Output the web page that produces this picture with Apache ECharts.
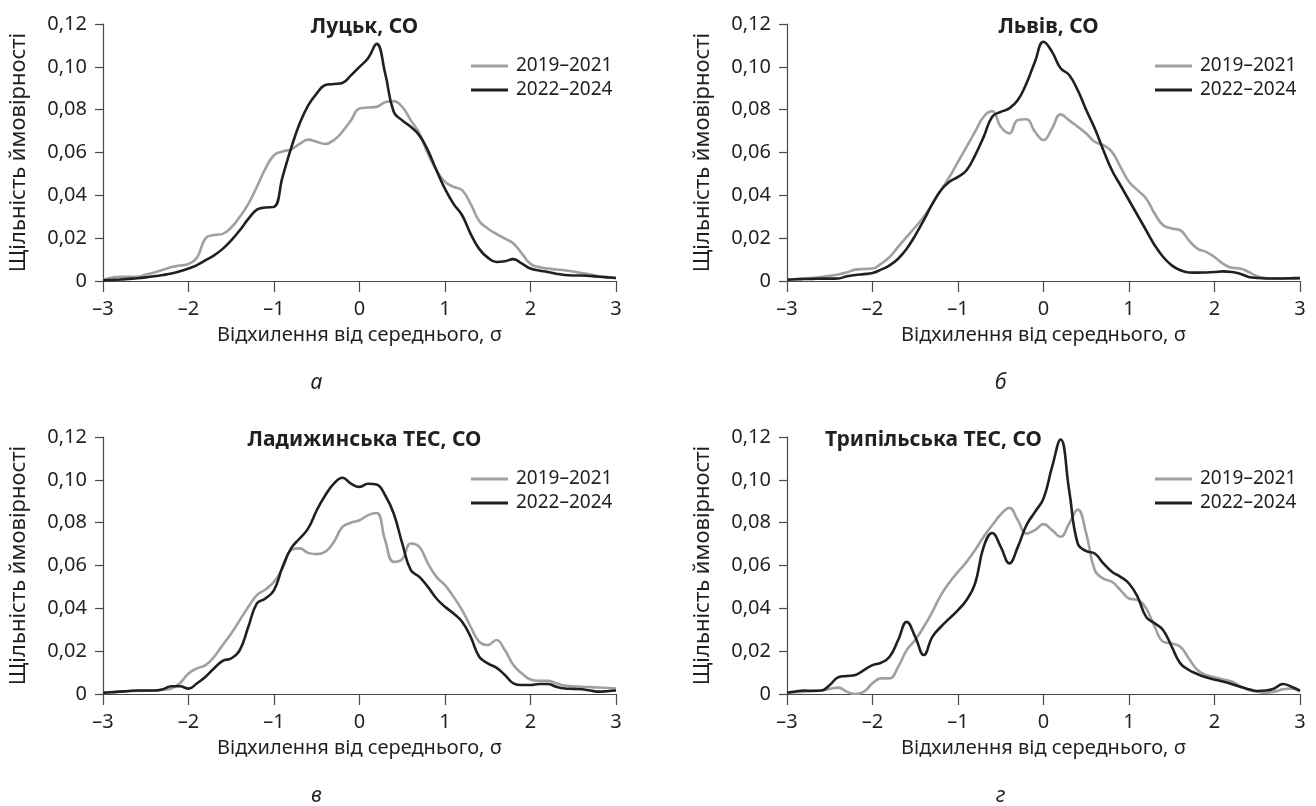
<!DOCTYPE html>
<html>
<head>
    <meta charset="utf-8">
    <title>Щільність ймовірності CO</title>
    <script src="https://cdn.jsdelivr.net/npm/echarts@6/dist/echarts.min.js"></script>
    <style>
        html, body { margin: 0; padding: 0; background: #fff; }
    </style>
</head>
<body>
    <div id="main" style="width: 1316px;height:806px;"></div>
    <script type="text/javascript">
        var myChart = echarts.init(document.getElementById('main'));

        // відхилення від середнього, σ
        var xs = [-3.0, -2.9, -2.8, -2.7, -2.6, -2.5, -2.4, -2.3, -2.2, -2.1,
                  -2.0, -1.9, -1.8, -1.7, -1.6, -1.5, -1.4, -1.3, -1.2, -1.1,
                  -1.0, -0.9, -0.8, -0.7, -0.6, -0.5, -0.4, -0.3, -0.2, -0.1,
                  0.0, 0.1, 0.2, 0.3, 0.4, 0.5, 0.6, 0.7, 0.8, 0.9,
                  1.0, 1.1, 1.2, 1.3, 1.4, 1.5, 1.6, 1.7, 1.8, 1.9,
                  2.0, 2.1, 2.2, 2.3, 2.4, 2.5, 2.6, 2.7, 2.8, 2.9, 3.0];

        var periods = ['2019–2021', '2022–2024'];
        var titles = ['Луцьк, СО', 'Львів, СО', 'Ладижинська ТЕС, СО', 'Трипільська ТЕС, СО'];
        var captions = ['а', 'б', 'в', 'г'];
        var yTicks = [0, 0.02, 0.04, 0.06, 0.08, 0.10, 0.12];

        // Луцьк
        var lutsk2019 = [0.0006, 0.0015, 0.002, 0.002, 0.002, 0.003, 0.004, 0.0052, 0.0065, 0.0072,
                         0.008, 0.011, 0.020, 0.0215, 0.022, 0.025, 0.030, 0.036, 0.044, 0.0525,
                         0.0587, 0.0605, 0.0614, 0.064, 0.066, 0.065, 0.064, 0.0658, 0.0697, 0.075,
                         0.0806, 0.081, 0.0813, 0.0835, 0.084, 0.0813, 0.075, 0.069, 0.0595, 0.0517,
                         0.0463, 0.044, 0.0424, 0.036, 0.028, 0.0245, 0.022, 0.0198, 0.0175, 0.0128,
                         0.008, 0.0065, 0.0058, 0.0054, 0.005, 0.0044, 0.0037, 0.003, 0.0022, 0.0018, 0.0014];
        var lutsk2022 = [0.0003, 0.0005, 0.0007, 0.001, 0.0013, 0.0017, 0.0022, 0.0028, 0.0035, 0.0045,
                         0.0058, 0.0074, 0.0097, 0.012, 0.015, 0.019, 0.0237, 0.029, 0.0333, 0.0343,
                         0.0346, 0.0486, 0.062, 0.0735, 0.082, 0.0876, 0.0915, 0.092, 0.0925, 0.096,
                         0.100, 0.104, 0.1107, 0.097, 0.079, 0.075, 0.072, 0.068, 0.061, 0.0517,
                         0.043, 0.036, 0.0307, 0.022, 0.015, 0.0109, 0.0089, 0.0092, 0.0102, 0.0081,
                         0.0058, 0.0049, 0.0042, 0.0034, 0.0028, 0.0026, 0.0026, 0.0023, 0.002, 0.0017, 0.0014];

        // Львів
        var lviv2019 = [0.0006, 0.0008, 0.0011, 0.0015, 0.0019, 0.0024, 0.003, 0.004, 0.0053, 0.0056,
                        0.0058, 0.008, 0.0112, 0.0159, 0.0206, 0.0252, 0.030, 0.036, 0.0424, 0.0486,
                        0.0556, 0.0626, 0.0697, 0.0767, 0.0793, 0.072, 0.0689, 0.0752, 0.0755, 0.0697,
                        0.0658, 0.0712, 0.0778, 0.075, 0.072, 0.0689, 0.065, 0.0634, 0.0603, 0.0533,
                        0.0463, 0.0424, 0.0385, 0.0315, 0.026, 0.0245, 0.0237, 0.019, 0.0151, 0.0136,
                        0.0112, 0.0081, 0.0062, 0.0058, 0.0042, 0.0022, 0.0014, 0.0012, 0.0011, 0.0011, 0.0011];
        var lviv2022 = [0.0006, 0.0008, 0.0009, 0.001, 0.0011, 0.0011, 0.0012, 0.0022, 0.0028, 0.0032,
                        0.0037, 0.0053, 0.0073, 0.0104, 0.0151, 0.0213, 0.0284, 0.036, 0.0424, 0.0463,
                        0.0486, 0.0517, 0.0587, 0.0673, 0.0767, 0.079, 0.0806, 0.0845, 0.0922, 0.1024,
                        0.1117, 0.107, 0.0993, 0.0962, 0.0891, 0.0798, 0.0712, 0.0611, 0.0517, 0.0447,
                        0.0377, 0.0307, 0.0237, 0.0167, 0.0112, 0.0073, 0.005, 0.004, 0.0039, 0.004,
                        0.0042, 0.0045, 0.0042, 0.0034, 0.0019, 0.0014, 0.0012, 0.0012, 0.0012, 0.0013, 0.0014];

        // Ладижинська ТЕС
        var ladyzhyn2019 = [0.0006, 0.0009, 0.0011, 0.0013, 0.0014, 0.0015, 0.0016, 0.002, 0.0026, 0.005,
                            0.0096, 0.012, 0.0135, 0.0174, 0.0229, 0.0283, 0.0345, 0.0407, 0.0462, 0.0488,
                            0.0524, 0.0586, 0.0672, 0.068, 0.0659, 0.0653, 0.0664, 0.071, 0.078, 0.080,
                            0.0811, 0.0835, 0.0845, 0.0718, 0.0617, 0.063, 0.0703, 0.0687, 0.061, 0.0547,
                            0.0508, 0.0454, 0.0392, 0.0314, 0.0244, 0.0229, 0.0252, 0.0205, 0.0135, 0.0096,
                            0.0068, 0.0062, 0.0062, 0.005, 0.0039, 0.0036, 0.0034, 0.0032, 0.003, 0.0028, 0.0026];
        var ladyzhyn2022 = [0.0006, 0.0008, 0.0011, 0.0014, 0.0016, 0.0016, 0.0016, 0.0022, 0.0036, 0.0036,
                            0.0025, 0.005, 0.0081, 0.012, 0.0155, 0.0166, 0.0205, 0.0314, 0.0423, 0.0446,
                            0.0485, 0.0594, 0.068, 0.0726, 0.0773, 0.0858, 0.0928, 0.0982, 0.101, 0.0982,
                            0.0967, 0.0982, 0.0978, 0.0928, 0.0843, 0.0703, 0.0578, 0.0547, 0.05, 0.0446,
                            0.0407, 0.0376, 0.0337, 0.0267, 0.0174, 0.0143, 0.0123, 0.0089, 0.005, 0.0042,
                            0.0042, 0.0047, 0.0047, 0.0034, 0.0026, 0.0024, 0.0022, 0.0016, 0.0011, 0.0013, 0.0016];

        // Трипільська ТЕС
        var trypillia2019 = [0.0006, 0.0008, 0.0011, 0.0013, 0.0016, 0.0024, 0.003, 0.0011, 0.0, 0.0011,
                             0.005, 0.0073, 0.0073, 0.0127, 0.0205, 0.0252, 0.0314, 0.0384, 0.0462, 0.0521,
                             0.057, 0.0617, 0.0672, 0.0734, 0.0788, 0.0838, 0.0869, 0.0811, 0.0749, 0.0765,
                             0.0793, 0.0765, 0.0734, 0.0796, 0.0861, 0.0749, 0.0578, 0.0539, 0.0524, 0.0485,
                             0.0446, 0.0439, 0.040, 0.0314, 0.0244, 0.0236, 0.0221, 0.0166, 0.0112, 0.0089,
                             0.0078, 0.0068, 0.0058, 0.0037, 0.0019, 0.0011, 0.0006, 0.0011, 0.0022, 0.0026, 0.0011];
        var trypillia2022 = [0.0006, 0.0012, 0.0016, 0.0015, 0.0016, 0.0042, 0.0078, 0.0084, 0.0089, 0.0112,
                             0.0135, 0.0146, 0.0174, 0.0252, 0.0337, 0.0267, 0.0182, 0.0267, 0.0314, 0.0353,
                             0.0392, 0.0439, 0.0516, 0.0687, 0.0752, 0.0687, 0.061, 0.0687, 0.0788, 0.085,
                             0.0913, 0.106, 0.1188, 0.0951, 0.0703, 0.0667, 0.0656, 0.061, 0.0571, 0.0547,
                             0.0516, 0.0454, 0.036, 0.033, 0.0298, 0.0221, 0.0143, 0.0112, 0.0093, 0.0078,
                             0.0068, 0.0058, 0.0047, 0.0034, 0.0022, 0.0014, 0.0016, 0.0026, 0.0047, 0.0034, 0.0016];

        var panelData = [
            [lutsk2019, lutsk2022],
            [lviv2019, lviv2022],
            [ladyzhyn2019, ladyzhyn2022],
            [trypillia2019, trypillia2022]
        ];

        var fontFamily = '"Noto Sans", "DejaVu Sans", sans-serif';
        var textColor = '#231f20';
        var axisColor = '#4a4a4a';
        var lineColors = ['#a0a0a0', '#231f20'];

        // розміщення чотирьох панелей
        var grids = [
            { left: 103, top: 24, width: 513, height: 257 },
            { left: 787, top: 24, width: 513, height: 257 },
            { left: 103, top: 437, width: 513, height: 257 },
            { left: 787, top: 437, width: 513, height: 257 }
        ];

        function pairs(ys) {
            return xs.map(function (x, i) { return [x, ys[i]]; });
        }

        var option = {
            backgroundColor: '#fff',
            animation: false,
            textStyle: { fontFamily: fontFamily, color: textColor },
            grid: grids,
            title: [],
            legend: [],
            xAxis: [],
            yAxis: [],
            series: [],
            graphic: []
        };

        grids.forEach(function (g, k) {
            var center = g.left + g.width / 2;
            var leftTitle = (k === 3);
            option.title.push({
                text: titles[k],
                left: leftTitle ? g.left + 33 : center,
                top: g.top - 12,
                textAlign: leftTitle ? 'left' : 'center',
                textStyle: { fontFamily: fontFamily, fontSize: 21, fontWeight: 'bold', color: textColor }
            });
            option.legend.push({
                data: periods,
                orient: 'vertical',
                left: g.left + 363,
                top: g.top + 27,
                icon: 'rect',
                itemWidth: 37,
                itemHeight: 3,
                itemGap: 4,
                selectedMode: false,
                textStyle: { fontFamily: fontFamily, fontSize: 19, color: textColor, lineHeight: 20, padding: [0, 0, 0, 3] }
            });
            option.xAxis.push({
                type: 'value',
                gridIndex: k,
                min: -3,
                max: 3,
                interval: 1,
                name: 'Відхилення від середнього, σ',
                nameLocation: 'middle',
                nameGap: 44,
                nameTextStyle: { fontFamily: fontFamily, fontSize: 20, color: textColor },
                axisLine: { onZero: false, lineStyle: { color: axisColor, width: 1.2 } },
                axisTick: { show: true, length: 11, lineStyle: { color: axisColor, width: 1.2 } },
                axisLabel: {
                    margin: 18,
                    fontFamily: fontFamily,
                    fontSize: 20,
                    color: textColor,
                    formatter: function (v) { return String(v).replace('-', '–'); }
                },
                splitLine: { show: false }
            });
            option.yAxis.push({
                type: 'value',
                gridIndex: k,
                min: yTicks[0],
                max: yTicks[yTicks.length - 1],
                interval: 0.02,
                name: 'Щільність ймовірності',
                nameLocation: 'middle',
                nameRotate: 90,
                nameGap: 73,
                nameTextStyle: { fontFamily: fontFamily, fontSize: 22, color: textColor },
                axisLine: { show: true, onZero: false, lineStyle: { color: axisColor, width: 1.2 } },
                axisTick: { show: true, length: 8, lineStyle: { color: axisColor, width: 1.2 } },
                axisLabel: {
                    margin: 16,
                    fontFamily: fontFamily,
                    fontSize: 20,
                    color: textColor,
                    formatter: function (v) { return v === 0 ? '0' : v.toFixed(2).replace('.', ','); }
                },
                splitLine: { show: false }
            });
            periods.forEach(function (p, j) {
                option.series.push({
                    name: p,
                    type: 'line',
                    xAxisIndex: k,
                    yAxisIndex: k,
                    data: pairs(panelData[k][j]),
                    smooth: 0.45,
                    symbol: 'none',
                    showSymbol: false,
                    z: 2 + j,
                    lineStyle: { color: lineColors[j], width: 2.6 },
                    itemStyle: { color: lineColors[j] }
                });
            });
            option.graphic.push({
                type: 'text',
                x: center - 43,
                y: g.top + g.height + 102,
                style: {
                    text: captions[k],
                    fontFamily: fontFamily,
                    fontSize: 21,
                    fontStyle: 'italic',
                    fill: textColor,
                    textAlign: 'center',
                    textVerticalAlign: 'middle'
                }
            });
        });

        myChart.setOption(option);
    </script>
</body>
</html>
